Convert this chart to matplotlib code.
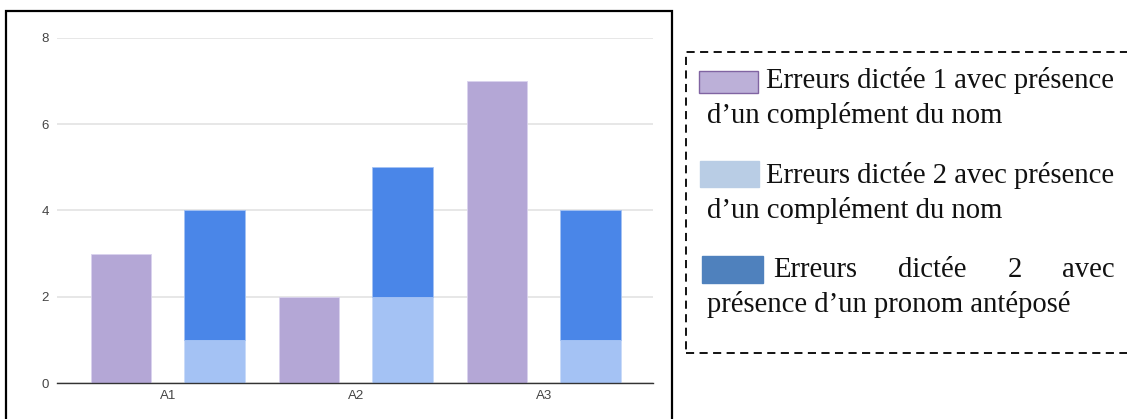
import numpy as np
import matplotlib.pyplot as plt
from matplotlib.patches import Rectangle

categories = ['A1', 'A2', 'A3']
dictee1_cdn = [3, 2, 7]
dictee2_cdn = [1, 2, 1]
dictee2_pronom = [3, 3, 3]
yticks = [0, 2, 4, 6, 8]

legend_labels = [
    ('Erreurs dictée 1 avec présence', 'd\u2019un complément du nom'),
    ('Erreurs dictée 2 avec présence', 'd\u2019un complément du nom'),
    ('Erreurs dictée 2 avec', 'présence d\u2019un pronom antéposé'),
]

W, H = 1127, 419
fig = plt.figure(figsize=(W / 100, H / 100), dpi=100)


def px(x, y):
    # pixel coords (from top-left) -> figure fraction
    return x / W, 1 - y / H


# chart
ax = fig.add_axes([57 / W, 1 - 383 / H, (653 - 57) / W, (383 - 38) / H])
x = np.arange(len(categories))
bw = 0.32
off = 0.248
ax.bar(x - off, dictee1_cdn, bw, color='#b4a7d6', edgecolor='#d9d2ee', linewidth=0.6, zorder=2)
ax.bar(x + off, dictee2_cdn, bw, color='#a4c2f4', edgecolor='#c9dbf8', linewidth=0.6, zorder=2)
ax.bar(x + off, dictee2_pronom, bw, bottom=dictee2_cdn, color='#4a86e8',
       edgecolor='#a4c2f4', linewidth=0.6, zorder=2)

ax.set_xlim(-0.59, 2.58)
ax.set_ylim(0, 8)
ax.set_yticks(yticks)
ax.set_xticks(x)
ax.set_xticklabels(categories)
for s in ['top', 'right', 'left']:
    ax.spines[s].set_visible(False)
ax.spines['bottom'].set_color('#333333')
ax.spines['bottom'].set_linewidth(1.0)
ax.spines['bottom'].set_zorder(3)
ax.grid(axis='y', color='#e0e0e0', linewidth=1.1, zorder=0)
ax.tick_params(length=0, labelsize=9.5, labelcolor='#444444', labelfontfamily='Liberation Sans')
ax.tick_params(axis='y', pad=6)
ax.tick_params(axis='x', pad=5)

# black frame around the chart (bottom runs off the image)
fx0, fy0 = px(6, 11)
fx1, _ = px(672, 11)
fig.patches.append(Rectangle((fx0, -0.1), fx1 - fx0, fy0 + 0.1, transform=fig.transFigure,
                             fill=False, edgecolor='black', linewidth=1.6, clip_on=False))

# dashed legend box (right side runs off the image)
bx0, by0 = px(686, 353)
_, by1 = px(686, 52)
fig.patches.append(Rectangle((bx0, by0), 1.1 - bx0, by1 - by0, transform=fig.transFigure,
                             fill=False, edgecolor='black', linewidth=1.3,
                             linestyle=(0, (4.5, 3)), clip_on=False))

# legend swatches
swatches = [
    ((699, 71, 758, 93), '#bcb0d8', '#8064a2'),
    ((700, 161, 759, 187), '#b9cde5', '#b9cde5'),
    ((702, 256, 763, 283), '#4f81bd', '#4f81bd'),
]
for (x0, y0, x1, y1), fc, ec in swatches:
    a, b = px(x0, y1)
    c, d = px(x1, y0)
    fig.patches.append(Rectangle((a, b), c - a, d - b, transform=fig.transFigure,
                                 facecolor=fc, edgecolor=ec, linewidth=1.0))

fs = 20.6
font = dict(family='Liberation Serif', fontsize=fs, color='#111111', va='baseline')
fig.text(*px(766, 88), legend_labels[0][0], **font)
fig.text(*px(707, 123), legend_labels[0][1], **font)
fig.text(*px(766, 183), legend_labels[1][0], **font)
fig.text(*px(707, 218), legend_labels[1][1], **font)
# justified line
words = legend_labels[2][0].split()
for wx, w in zip([773, 898, 1008, 1062], words):
    fig.text(*px(wx, 277), w, **font)
fig.text(*px(707, 312), legend_labels[2][1], **font)

fig.savefig('out.png', dpi=100, facecolor='white')
